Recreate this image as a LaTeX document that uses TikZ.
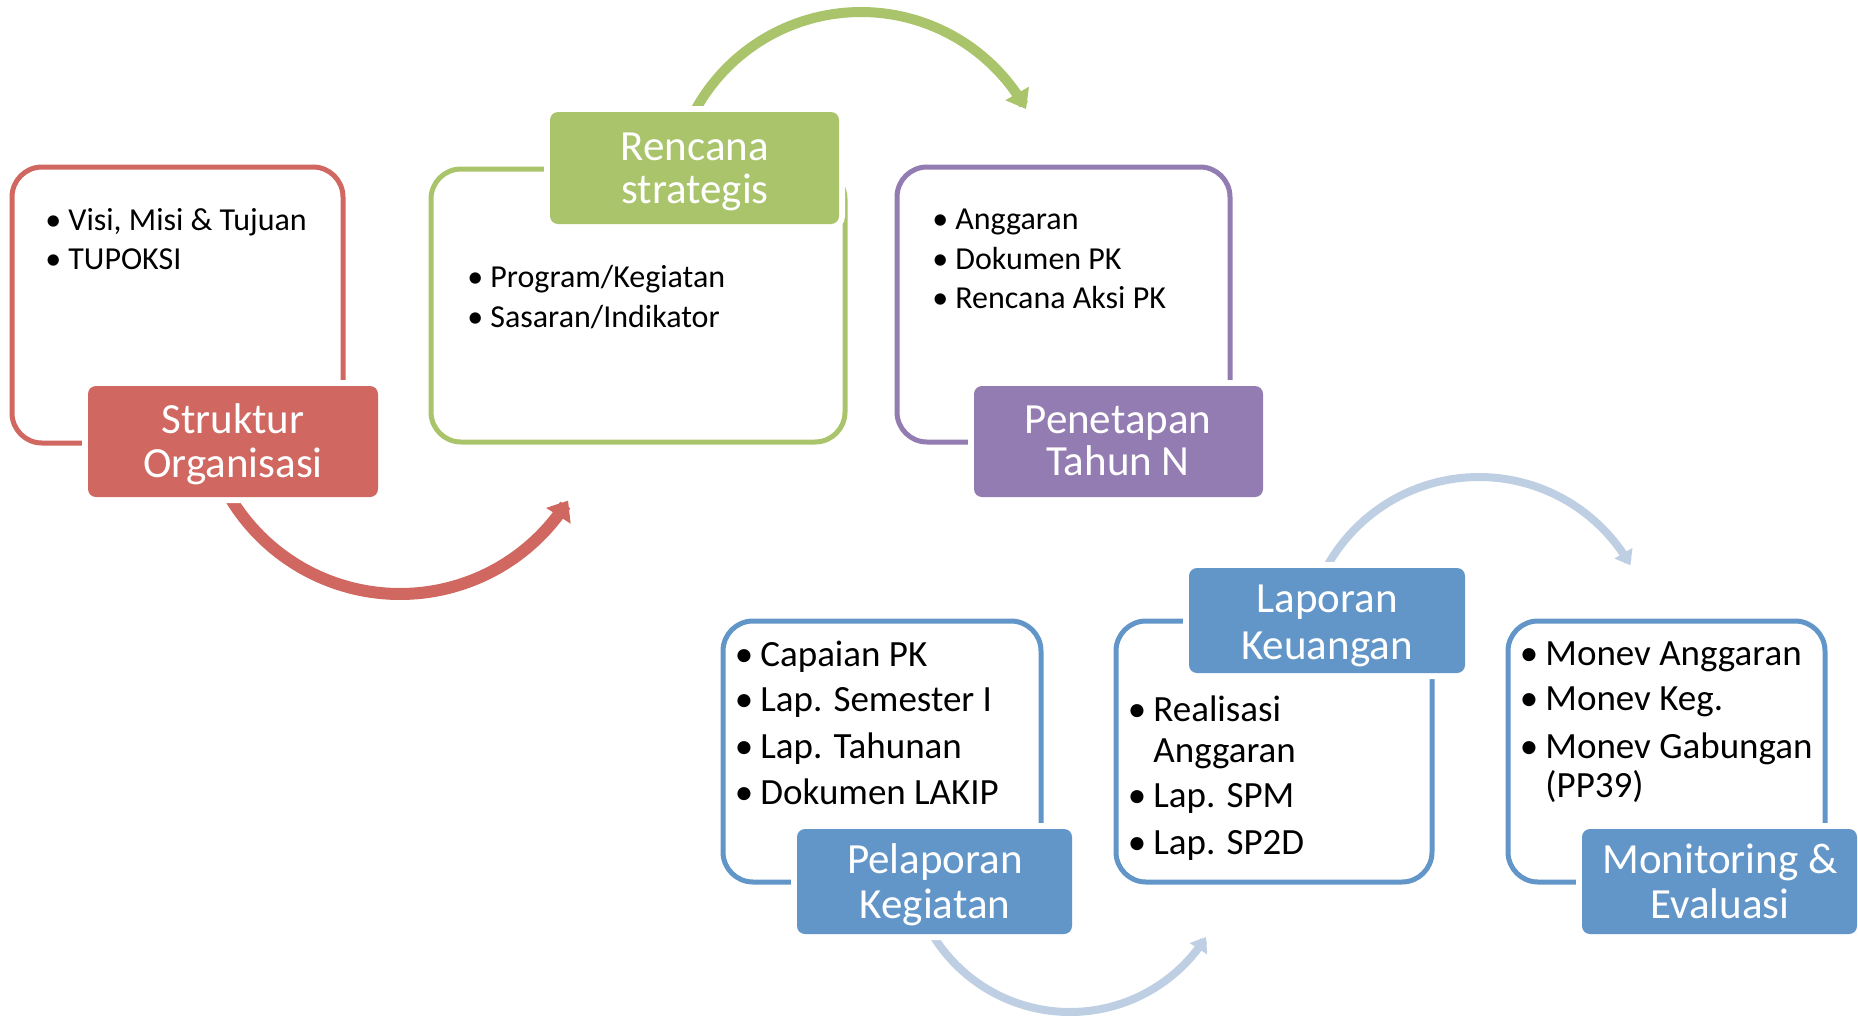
\documentclass[tikz,border=0pt]{standalone}
\usepackage{fontspec}
\setmainfont{Carlito}
\usetikzlibrary{arrows.meta}
\definecolor{redc}{RGB}{208,103,96}
\definecolor{greenc}{RGB}{169,196,107}
\definecolor{purplec}{RGB}{147,124,177}
\definecolor{bluec}{RGB}{98,150,200}
\definecolor{lbluec}{RGB}{191,207,227}
\newcommand\mybul{\llap{•\hspace{3.5pt}}}
\begin{document}
\begin{tikzpicture}[x=0.5pt,y=-0.5pt,
  frame/.style={line width=2.5pt, rounded corners=15pt},
  titlebox/.style={rectangle, rounded corners=4pt, inner sep=0pt,
    preaction={draw=white, line width=6pt}},
  ttl/.style={anchor=base, inner sep=0pt, text=white, font=\fontsize{21.5pt}{22pt}\selectfont},
  bt/.style={anchor=base west, inner sep=0pt, text=black, font=\fontsize{16pt}{19pt}\selectfont},
  bb/.style={anchor=base west, inner sep=0pt, text=black, font=\fontsize{18.5pt}{22pt}\selectfont},
  bigarc/.style={line width=6pt, -{Triangle[length=9pt,width=14pt]}},
  midarc/.style={line width=5pt, -{Triangle[length=9pt,width=13pt]}},
  smallarc/.style={line width=4pt, -{Triangle[length=7pt,width=10pt]}}
]
\useasboundingbox (0,0) rectangle (1858,1018);

% arcs
\draw[bigarc, redc] plot[domain=152:31.9, samples=80] ({400+198*cos(\x)}, {396+198*sin(\x)});
\draw[midarc, greenc] plot[domain=207:330.9, samples=80] ({861+189*cos(\x)}, {201+189*sin(\x)});
\draw[smallarc, lbluec] plot[domain=209:330.5, samples=80] ({1479+174*cos(\x)}, {651+174*sin(\x)});
\draw[smallarc, lbluec] plot[domain=150:32.3, samples=80] ({1070+161*cos(\x)}, {851+161*sin(\x)});

% outlines
\draw[frame, redc] (12,167) rectangle (343,443);
\draw[frame, greenc] (431,169) rectangle (845,442);
\draw[frame, purplec] (897,167) rectangle (1230,442);
\draw[frame, bluec] (723,621) rectangle (1041,882);
\draw[frame, bluec] (1116,621) rectangle (1432,882);
\draw[frame, bluec] (1508,621) rectangle (1825,882);

% title boxes
\node[titlebox, fill=redc, minimum width=145pt, minimum height=55.5pt] (struktur) at (233,441.5) {};
\node[titlebox, fill=greenc, minimum width=144.5pt, minimum height=56pt] (renstra) at (694.5,168) {};
\node[titlebox, fill=purplec, minimum width=144.5pt, minimum height=55.5pt] (penetapan) at (1118.5,441.5) {};
\node[titlebox, fill=bluec, minimum width=137.5pt, minimum height=52.5pt] (pelaporan) at (934.5,881.5) {};
\node[titlebox, fill=bluec, minimum width=138pt, minimum height=52.5pt] (laporan) at (1327,620.5) {};
\node[titlebox, fill=bluec, minimum width=137.5pt, minimum height=52.5pt] (monev) at (1719.5,881.5) {};

% titles
\node[ttl] (t1a) at (233,433) {Struktur};
\node[ttl] (t1b) at (233,477) {Organisasi};
\node[ttl] (t2a) at (695,160) {Rencana};
\node[ttl] (t2b) at (695,203) {strategis};
\node[ttl] (t3a) at (1118,433) {Penetapan};
\node[ttl] (t3b) at (1118,475) {Tahun N};
\node[ttl] (t4a) at (935,873) {Pelaporan};
\node[ttl] (t4b) at (935,918) {Kegiatan};
\node[ttl] (t5a) at (1327,612) {Laporan};
\node[ttl] (t5b) at (1327,659) {Keuangan};
\node[ttl] (t6a) at (1720,873) {Monitoring \&};
\node[ttl] (t6b) at (1720,918) {Evaluasi};

% bullets top row
\node[bt] (r1) at (68,230) {\mybul Visi, Misi \& Tujuan};
\node[bt] (r2) at (68,269) {\mybul TUPOKSI};
\node[bt] (g1) at (490,287) {\mybul Program/Kegiatan};
\node[bt] (g2) at (490,327) {\mybul Sasaran/Indikator};
\node[bt] (p1) at (955,229) {\mybul Anggaran};
\node[bt] (p2) at (955,269) {\mybul Dokumen PK};
\node[bt] (p3) at (955,308) {\mybul Rencana Aksi PK};

% bullets bottom row
\node[bb] (a1) at (760,666) {\mybul Capaian PK};
\node[bb] (a2) at (760,711) {\mybul Lap. Semester I};
\node[bb] (a3) at (760,758) {\mybul Lap. Tahunan};
\node[bb] (a4) at (760,804) {\mybul Dokumen LAKIP};
\node[bb] (b1) at (1153,721) {\mybul Realisasi};
\node[bb] (b1b) at (1153,762) {Anggaran};
\node[bb] (b2) at (1153,807) {\mybul Lap. SPM};
\node[bb] (b3) at (1153,854) {\mybul Lap. SP2D};
\node[bb] (c1) at (1545,665) {\mybul Monev Anggaran};
\node[bb] (c2) at (1545,710) {\mybul Monev Keg.};
\node[bb] (c3) at (1545,758) {\mybul Monev Gabungan};
\node[bb] (c3b) at (1545,797) {(PP39)};
\end{tikzpicture}
\end{document}
